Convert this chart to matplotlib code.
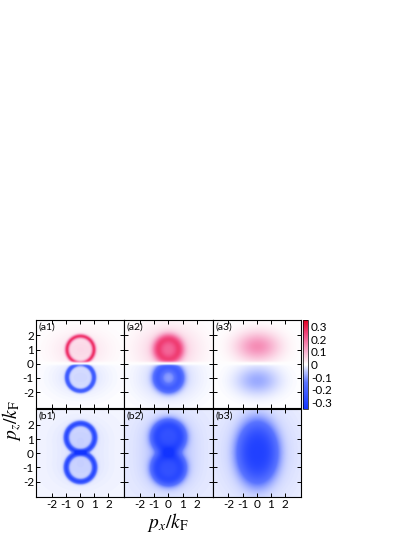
import matplotlib

matplotlib.use("Agg")
import matplotlib.pyplot as plt
import numpy as np
from matplotlib.colors import LinearSegmentedColormap

plt.rcParams["font.family"] = ["Lato", "DejaVu Sans"]
plt.rcParams["axes.unicode_minus"] = False
plt.rcParams["mathtext.fontset"] = "stix"

panel_names = ["(a1)", "(a2)", "(a3)", "(b1)", "(b2)", "(b3)"]
ticks = [-2, -1, 0, 1, 2]
cbar_ticks = [0.3, 0.2, 0.1, 0, -0.1, -0.2, -0.3]
vlim = 0.35

# lobe parameters, one entry per panel
# lobe centres on the p_z axis (upper lobe at +zc, lower at -zc)
lobe_center = [0.98, 1.0, 1.2, 1.05, 1.1, 0.0]
ring_radius = [0.95, 0.8, 0.0, 1.0, 0.95, 0.0]
ring_width = [0.15, 0.38, 1.0, 0.17, 0.4, 1.0]
# amplitudes: ring, filled interior, broad halo  (upper lobe / lower lobe)
ring_amp_up = [0.24, 0.12, 0.0, -0.25, -0.11, 0.0]
ring_amp_dn = [-0.2, -0.15, 0.0, -0.25, -0.11, 0.0]
fill_amp_up = [0.01, 0.13, 0.0, -0.015, -0.19, 0.0]
fill_amp_dn = [-0.01, -0.05, 0.0, -0.015, -0.19, 0.0]
halo_amp_up = [0.04, 0.07, 0.15, -0.02, -0.04, -0.26]
halo_amp_dn = [-0.03, -0.045, -0.085, -0.02, -0.04, -0.26]
halo_sx = [2.0, 2.1, 1.5, 1.8, 1.8, 1.45]
halo_sz = [1.3, 1.6, 1.0, 1.3, 1.6, 2.2]
background = [0.0, 0.0, 0.0, -0.01, -0.02, -0.045]
split_sign = [True, True, True, False, False, False]


def lobe(px, pz, zc, R, w, a_ring, a_fill, a_halo, sx, sz, flat):
    r = np.hypot(px, pz - zc)
    val = a_ring * np.exp(-((r - R) / w) ** 2)
    if R > 0:
        val = val + a_fill / (1 + np.exp((r - R) / (0.5 * w)))
    e2 = (px / sx) ** 2 + ((pz - zc) / sz) ** 2
    val = val + a_halo * np.exp(-(e2 ** 1.6 if flat else e2))
    return val


def field(i, px, pz):
    zc = lobe_center[i]
    flat = zc == 0
    up = lobe(px, pz, zc, ring_radius[i], ring_width[i], ring_amp_up[i],
              fill_amp_up[i], halo_amp_up[i], halo_sx[i], halo_sz[i], flat)
    dn = lobe(px, pz, -zc, ring_radius[i], ring_width[i], ring_amp_dn[i],
              fill_amp_dn[i], halo_amp_dn[i], halo_sx[i], halo_sz[i], flat)
    if split_sign[i]:
        gate = 1 - np.exp(-(pz / 0.12) ** 2)
        return np.where(pz > 0, up, dn) * gate
    if flat:
        return up + background[i] * np.exp(-((px / 4) ** 2 + (pz / 5) ** 2))
    return np.clip(up + dn, -vlim, vlim) + background[i]


cmap = LinearSegmentedColormap.from_list(
    "bwr_pink",
    [(0.0, "#1234ff"), (0.3, "#5a74ff"), (0.5, "#ffffff"),
     (0.68, "#f7a0c4"), (0.84, "#f24a82"), (1.0, "#e2001e")],
)

ext = 3.12
g = np.linspace(-ext, ext, 300)
PX, PZ = np.meshgrid(g, g)

fig = plt.figure(figsize=(4.15, 5.37), dpi=100)
left, bottom = 36 / 415, 39 / 537
pw, ph = 88.3 / 415, 89.5 / 537

for i, name in enumerate(panel_names):
    row, col = divmod(i, 3)
    ax = fig.add_axes([left + col * pw, bottom + (1 - row) * ph, pw, ph])
    im = ax.imshow(field(i, PX, PZ), origin="lower", extent=[-ext, ext, -ext, ext],
                   cmap=cmap, vmin=-vlim, vmax=vlim, interpolation="bilinear")
    ax.set_xticks(ticks)
    ax.set_yticks(ticks)
    ax.tick_params(direction="in", top=True, right=True, length=3, width=0.7,
                   labelsize=8.5, pad=1.5)
    if col != 0:
        ax.set_yticklabels([])
    if row != 1:
        ax.set_xticklabels([])
    for s in ax.spines.values():
        s.set_linewidth(0.8)
    ax.text(0.03, 0.97, name, transform=ax.transAxes, ha="left", va="top", fontsize=7.5)

cax = fig.add_axes([303 / 415, 128 / 537, 5 / 415, 89 / 537])
cb = fig.colorbar(im, cax=cax, ticks=cbar_ticks)
cb.ax.tick_params(length=0, labelsize=8.5, pad=2)
cb.ax.set_yticklabels([f"{t:g}" for t in cbar_ticks])
cb.outline.set_linewidth(0.5)

fig.text(12 / 415, 1 - 420 / 537, r"$p_z/k_{\rm F}$", rotation=90, ha="center",
         va="center", fontsize=14)
fig.text(168 / 415, 1 - 522 / 537, r"$p_x/k_{\rm F}$", ha="center", va="center",
         fontsize=14)

fig.savefig("out.png", dpi=100)
